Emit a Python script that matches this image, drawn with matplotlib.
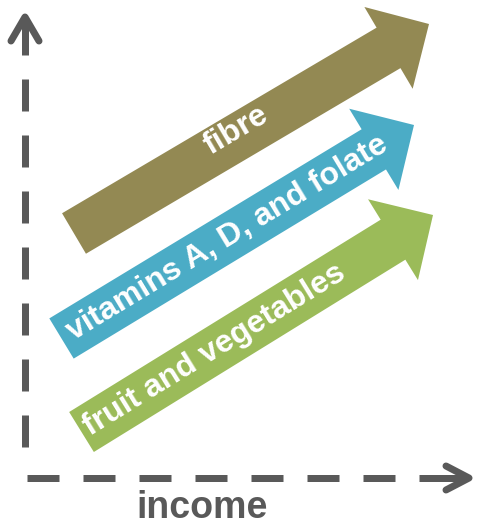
import matplotlib
matplotlib.use("Agg")
import matplotlib.pyplot as plt
from matplotlib.patches import FancyArrow
import numpy as np

plt.rcParams['font.family'] = ['Liberation Sans', 'DejaVu Sans']
plt.rcParams['lines.scale_dashes'] = False

# arrow data (pixel space, y grows downward)
labels = ['fibre', 'vitamins A, D, and folate', 'fruit and vegetables']
colors = ['#938953', '#4BACC6', '#9BBB59']
tail_x = [74, 61.5, 81.5]
tail_y = [233.5, 338.5, 432]
tip_x = [429, 414, 433]
tip_y = [24, 125, 215]
label_pos = [0.465, 0.47, 0.38]
label_shift = [6, 0, 0]  # offset across the shaft, positive = up-left

axis_color = '#595959'

fig = plt.figure(figsize=(4.78, 5.29), dpi=100)
ax = fig.add_axes([0, 0, 1, 1])
ax.set_xlim(0, 478)
ax.set_ylim(529, 0)
ax.axis('off')

px = 0.72  # points per pixel at 100 dpi

# dashed axes
ax.plot([25, 25], [447, 79], color=axis_color, lw=7 * px,
        linestyle=(0, (32 * px, 24 * px)), solid_capstyle='butt', dash_capstyle='butt')
ax.plot([25, 25], [55, 17], color=axis_color, lw=7 * px, solid_capstyle='butt')
ax.plot([11, 25, 39], [41, 17, 41], color=axis_color, lw=7 * px,
        solid_capstyle='round', solid_joinstyle='round')

ax.plot([27, 395], [478, 478], color=axis_color, lw=7 * px,
        linestyle=(0, (32 * px, 24 * px)), solid_capstyle='butt', dash_capstyle='butt')
ax.plot([419, 466], [478, 478], color=axis_color, lw=7 * px, solid_capstyle='butt')
ax.plot([446, 469, 446], [466, 478, 490], color=axis_color, lw=7 * px,
        solid_capstyle='round', solid_joinstyle='round')

ax.text(202, 508, 'income', color=axis_color, fontsize=27, fontweight='bold',
        ha='center', va='center')

for lab, col, x0, y0, x1, y1, f, s in zip(labels, colors, tail_x, tail_y, tip_x, tip_y,
                                          label_pos, label_shift):
    dx, dy = x1 - x0, y1 - y0
    ax.add_patch(FancyArrow(x0, y0, dx, dy, width=47, head_width=95, head_length=47,
                            length_includes_head=True, color=col, lw=0))
    ang = np.degrees(np.arctan2(-dy, dx))
    n = np.hypot(dx, dy)
    nx, ny = -dy / n, dx / n  # normal pointing down-right in pixel space
    ax.text(x0 + f * dx - s * nx, y0 + f * dy - s * ny, lab, color='white', fontsize=23,
            fontweight='bold', rotation=ang, rotation_mode='anchor', ha='center', va='center')

fig.savefig('out.png', dpi=100)
